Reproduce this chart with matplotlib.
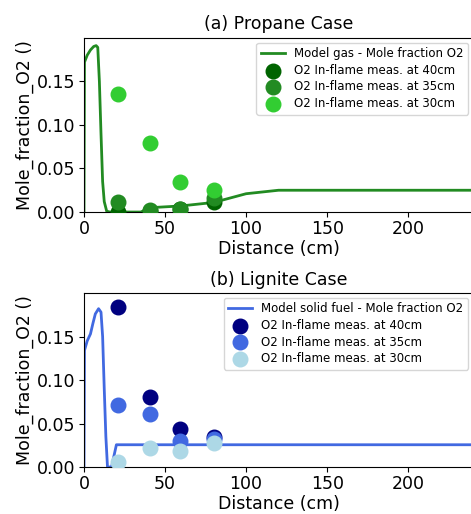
import matplotlib
matplotlib.use('Agg')
import matplotlib.pyplot as plt

# model curves
gas_x = [0, 0.3, 2, 4, 6, 7.5, 8.5, 9.5, 10.5, 11.5, 12.5, 14, 16, 35, 41, 60, 80, 90, 100, 110, 120, 240]
gas_y = [0, 0.172, 0.180, 0.186, 0.190, 0.191, 0.189, 0.150, 0.090, 0.035, 0.012, 0.001, 0.0, 0.0, 0.005, 0.007, 0.011, 0.016, 0.021, 0.023, 0.025, 0.025]

coal_x = [0, 0.3, 2, 4, 5.5, 7, 9, 10.5, 11.5, 12.5, 13.5, 14.5, 17, 20, 240]
coal_y = [0, 0.134, 0.145, 0.153, 0.165, 0.176, 0.182, 0.178, 0.150, 0.090, 0.035, 0.0, 0.0, 0.0256, 0.0256]

# in-flame measurements
meas_x = [21, 41, 59, 80]
gas_40 = [0.0, 0.001, 0.003, 0.011]
gas_35 = [0.011, 0.002, 0.004, 0.016]
gas_30 = [0.136, 0.079, 0.035, 0.025]
coal_40 = [0.184, 0.080, 0.044, 0.035]
coal_35 = [0.071, 0.061, 0.030, 0.032]
coal_30 = [0.006, 0.022, 0.018, 0.028]

fig = plt.figure(figsize=(4.71, 5.14), dpi=100)
ax1 = fig.add_axes([0.1783, 0.5875, 0.826, 0.339])
ax2 = fig.add_axes([0.1783, 0.0914, 0.826, 0.3385])

ax1.plot(gas_x, gas_y, color='forestgreen', linewidth=2, label='Model gas - Mole fraction O2')
ax1.scatter(meas_x, gas_40, s=110, color='darkgreen', label='O2 In-flame meas. at 40cm', zorder=3)
ax1.scatter(meas_x, gas_35, s=110, color='forestgreen', label='O2 In-flame meas. at 35cm', zorder=3)
ax1.scatter(meas_x, gas_30, s=110, color='limegreen', label='O2 In-flame meas. at 30cm', zorder=3)
ax1.set_title('(a) Propane Case', fontsize=12.5)

ax2.plot(coal_x, coal_y, color='royalblue', linewidth=2, label='Model solid fuel - Mole fraction O2')
ax2.scatter(meas_x, coal_40, s=110, color='navy', label='O2 In-flame meas. at 40cm', zorder=3)
ax2.scatter(meas_x, coal_35, s=110, color='royalblue', label='O2 In-flame meas. at 35cm', zorder=3)
ax2.scatter(meas_x, coal_30, s=110, color='lightblue', label='O2 In-flame meas. at 30cm', zorder=3)
ax2.set_title('(b) Lignite Case', fontsize=12.5)

for ax in (ax1, ax2):
    ax.set_xlim(0, 240)
    ax.set_ylim(0, 0.2)
    ax.set_yticks([0, 0.05, 0.10, 0.15])
    ax.set_xticks([0, 50, 100, 150, 200])
    ax.tick_params(labelsize=12.5, pad=2.5)
    ax.set_xlabel('Distance (cm)', fontsize=12.5, labelpad=1)
    ax.set_ylabel('Mole_fraction_O2 ()', fontsize=12.5, labelpad=2)
    ax.legend(loc='upper right', fontsize=8.5, labelspacing=0.3, borderaxespad=0.4)

plt.savefig('out.png')
plt.close()
